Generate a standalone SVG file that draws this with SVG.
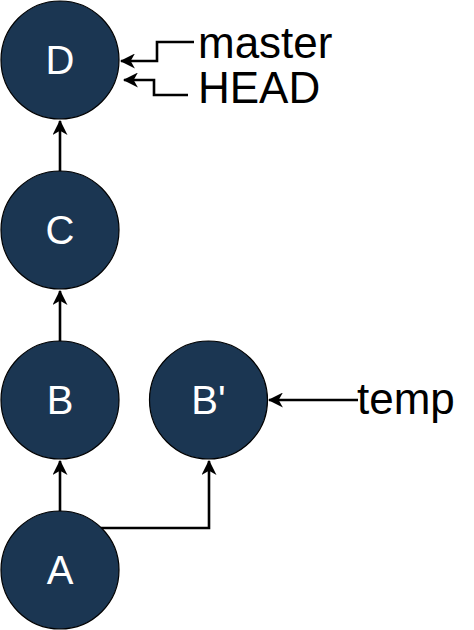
<svg xmlns="http://www.w3.org/2000/svg" width="474" height="630" viewBox="0 0 474 630">
<defs>
<style>
.node{fill:#1b3652;stroke:#000;stroke-width:1.2}
.lbl{font-family:"Liberation Sans",Arial,sans-serif;font-size:40px;fill:#fff;text-anchor:middle}
.ref{font-family:"Liberation Sans",Arial,sans-serif;font-size:44px;fill:#000}
.edge{fill:none;stroke:#000;stroke-width:2.6}
</style>
<marker id="arr" viewBox="0 0 14 14" refX="13" refY="7" markerWidth="15" markerHeight="15" markerUnits="userSpaceOnUse" orient="auto">
<path d="M0,0 L14,7 L0,14 L4,7 Z" fill="#000"/>
</marker>
</defs>
<rect width="474" height="630" fill="#fff"/>
<g id="connectors">
<path class="edge" d="M60,511 L60,461" marker-end="url(#arr)"/>
<path class="edge" d="M60,341 L60,291" marker-end="url(#arr)"/>
<path class="edge" d="M60,171 L60,121" marker-end="url(#arr)"/>
<path class="edge" d="M101,528 L209,528 L209,461" marker-end="url(#arr)"/>
<path class="edge" d="M358,400 L269,400" marker-end="url(#arr)"/>
<path class="edge" d="M194,42 L157,42 L157,61 L121,61" marker-end="url(#arr)"/>
<path class="edge" d="M188,95 L154,95 L154,80 L124,80" marker-end="url(#arr)"/>
</g>
<g id="node-D"><circle class="node" cx="60" cy="60" r="59"/><text class="lbl" x="60" y="74">D</text></g>
<g id="node-C"><circle class="node" cx="60" cy="230" r="59"/><text class="lbl" x="60" y="244">C</text></g>
<g id="node-B"><circle class="node" cx="60" cy="400" r="59"/><text class="lbl" x="60" y="414">B</text></g>
<g id="node-A"><circle class="node" cx="60" cy="570" r="59"/><text class="lbl" x="60" y="584">A</text></g>
<g id="node-Bp"><circle class="node" cx="208.5" cy="400" r="59"/><text class="lbl" x="208.5" y="414">B'</text></g>
<g id="label-master"><text class="ref" x="198" y="58">master</text></g>
<g id="label-HEAD"><text class="ref" x="198" y="103">HEAD</text></g>
<g id="label-temp"><text class="ref" x="357" y="414">temp</text></g>
</svg>
